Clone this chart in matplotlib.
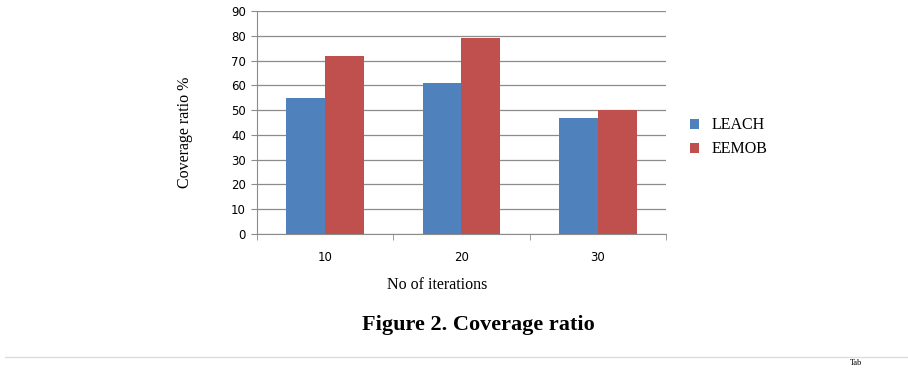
import matplotlib
matplotlib.use("Agg")
import matplotlib.pyplot as plt
import numpy as np

categories = ["10", "20", "30"]
leach = [55, 61, 47]
eemob = [72, 79, 50]
yticks = [0, 10, 20, 30, 40, 50, 60, 70, 80, 90]

fig = plt.figure(figsize=(9.08, 3.68), dpi=100)
ax = fig.add_axes([257/908, 1-234/368, (666-257)/908, (234-11)/368])

x = np.arange(len(categories))
w = 0.286
ax.bar(x - w/2, leach, w, color="#4F81BD", label="LEACH", zorder=3)
ax.bar(x + w/2, eemob, w, color="#C0504D", label="EEMOB", zorder=3)

ax.set_xlim(-0.5, 2.5)
ax.set_ylim(0, 90)
ax.set_yticks(yticks)
ax.set_yticklabels([str(v) for v in yticks], fontsize=8.5, family="DejaVu Sans")
ax.yaxis.grid(True, color="#8c8c8c", linewidth=0.9, zorder=0)
ax.set_xticks(x)
ax.set_xticklabels(categories, fontsize=8.5, family="DejaVu Sans")
ax.tick_params(axis="x", length=0, pad=12)
ax.tick_params(axis="y", length=4, color="#8c8c8c", pad=4)
ax.set_xticks([-0.5, 0.5, 1.5, 2.5], minor=True)
ax.tick_params(axis="x", which="minor", length=4, color="#8c8c8c")
for s in ["top", "right"]:
    ax.spines[s].set_visible(False)
ax.spines["left"].set_color("#8c8c8c")
ax.spines["bottom"].set_color("#8c8c8c")

ax.set_ylabel("Coverage ratio %", family="Liberation Serif", fontsize=11.5)
ax.set_xlabel("No of iterations", family="Liberation Serif", fontsize=11.5)
ax.yaxis.set_label_coords(-0.176, 0.457)
ax.xaxis.set_label_coords(0.44, -0.229)
ax.xaxis.label.set_va("center")
ax.yaxis.label.set_va("center")

leg = ax.legend(loc="center left", bbox_to_anchor=(1.04, 0.433), frameon=False,
                prop={"family": "Liberation Serif", "size": 11.5},
                handlelength=0.55, handleheight=0.55, handletextpad=0.8, labelspacing=0.5,
                borderpad=0)

fig.text(478/908, 1-325/368, "Figure 2. Coverage ratio", family="Liberation Serif",
         fontsize=16, fontweight="bold", ha="center", va="center")
fig.add_artist(plt.Line2D([5/908, 1], [1-357/368, 1-357/368], color="#dddddd", linewidth=1))
fig.text(850/908, 1/368, "Tab", family="Liberation Serif", fontsize=6, ha="left", va="bottom")

fig.savefig("out.png", dpi=100)
